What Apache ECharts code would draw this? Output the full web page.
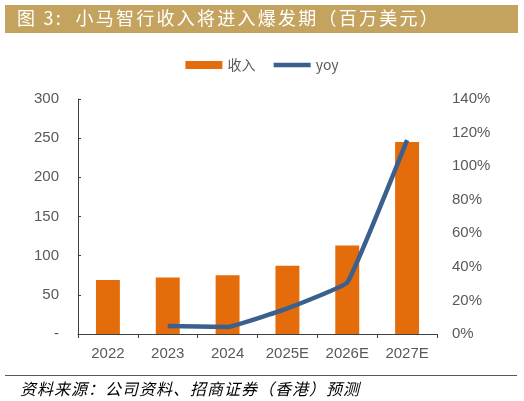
<!DOCTYPE html>
<html>
<head>
    <meta charset="utf-8">
    <title>小马智行收入</title>
    <script src="https://cdn.jsdelivr.net/npm/echarts@6/dist/echarts.min.js"></script>
    <style>
        html, body { margin: 0; padding: 0; background: #fff; }
    </style>
</head>
<body>
    <div id="main" style="width: 524px;height:401px;"></div>
    <script type="text/javascript">
        // data
        var years = ['2022', '2023', '2024', '2025E', '2026E', '2027E'];
        var revenue = [69, 72, 75, 87, 113, 245];
        var yoy = [null, 4.7, 4.2, 15.3, 30.7, 115.5];

        var cnFont = '"Noto Sans CJK SC", sans-serif';
        var numFont = '"Liberation Sans", Arial, sans-serif';

        // the original title/footer are set with loose letter spacing
        function spaced(s, gap) {
            return s.split('').join(gap);
        }

        var myChart = echarts.init(document.getElementById('main'));

        var option = {
            animation: false,
            backgroundColor: '#fff',
            graphic: [
                {
                    type: 'rect',
                    shape: { x: 5, y: 5, width: 513, height: 28 },
                    style: { fill: '#C4A35F' }
                },
                {
                    type: 'text',
                    left: 17, top: 9,
                    style: {
                        text: spaced('图 3:  小马智行收入将进入爆发期（百万美元）', '\u200a\u200a'),
                        fill: '#fff',
                        font: '18px ' + cnFont
                    }
                },
                {
                    type: 'line',
                    shape: { x1: 5, y1: 375.5, x2: 517, y2: 375.5 },
                    style: { stroke: '#595959', lineWidth: 1 }
                },
                {
                    type: 'text',
                    left: 20, top: 381,
                    style: {
                        text: spaced('资料来源：公司资料、招商证券（香港）预测', '\u200a'),
                        fill: '#000',
                        font: 'italic 16px ' + cnFont
                    }
                }
            ],
            legend: {
                top: 53,
                left: 'center',
                itemWidth: 37,
                itemHeight: 8,
                itemGap: 16,
                textStyle: { color: '#595959', fontSize: 14, fontFamily: cnFont },
                data: [
                    { name: '收入', icon: 'rect' },
                    { name: 'yoy', itemStyle: { opacity: 0 }, lineStyle: { width: 4.5, color: '#3B5F8E' } }
                ]
            },
            grid: {
                left: 78,
                right: 87,
                top: 99,
                bottom: 67
            },
            xAxis: {
                type: 'category',
                data: years,
                axisLine: { lineStyle: { color: '#404040', width: 1 } },
                axisTick: { show: true, inside: false, length: 4, lineStyle: { color: '#404040' } },
                axisLabel: { color: '#595959', fontSize: 15, fontFamily: numFont, margin: 12 }
            },
            yAxis: [
                {
                    type: 'value',
                    min: 0,
                    max: 300,
                    interval: 50,
                    splitLine: { show: false },
                    axisLine: { show: true, lineStyle: { color: '#404040' } },
                    axisTick: { show: true, inside: true, length: 3, lineStyle: { color: '#404040' } },
                    axisLabel: {
                        color: '#595959', fontSize: 15, fontFamily: numFont, margin: 19,
                        formatter: function (v) { return v === 0 ? '-' : v; }
                    }
                },
                {
                    type: 'value',
                    min: 0,
                    max: 140,
                    interval: 20,
                    splitLine: { show: false },
                    axisLine: { show: false },
                    axisTick: { show: false },
                    axisLabel: {
                        color: '#595959', fontSize: 15, fontFamily: numFont, margin: 15,
                        formatter: '{value}%'
                    }
                }
            ],
            series: [
                {
                    name: '收入',
                    type: 'bar',
                    data: revenue,
                    barWidth: '40%',
                    itemStyle: { color: '#E46C0A' }
                },
                {
                    name: 'yoy',
                    type: 'line',
                    yAxisIndex: 1,
                    data: yoy,
                    smooth: 0.08,
                    symbol: 'none',
                    lineStyle: { color: '#3B5F8E', width: 4.5 },
                    itemStyle: { color: '#3B5F8E' }
                }
            ]
        };

        myChart.setOption(option);
    </script>
</body>
</html>
